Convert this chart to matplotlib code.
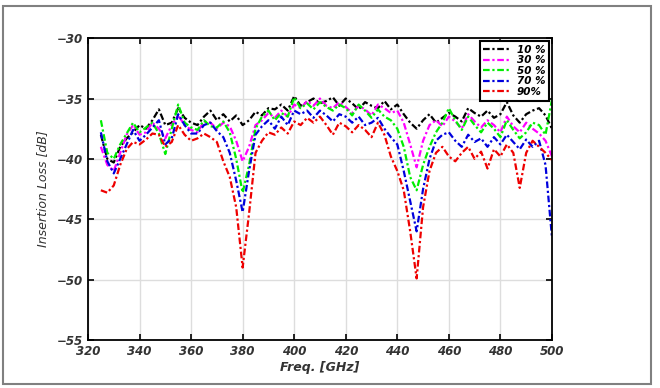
import numpy as np
import matplotlib
matplotlib.use("Agg")
import matplotlib.pyplot as plt
from matplotlib.patches import Rectangle

freq = np.arange(325, 500.1, 2.5)

loss_10 = [-38.0, -40.0, -40.3, -39.0, -38.3, -37.8, -37.2, -37.5, -36.8, -35.9,
           -37.2, -37.0, -35.8, -36.6, -37.0, -37.2, -36.5, -36.0, -36.8, -36.3,
           -36.9, -36.4, -37.2, -36.8, -36.1, -36.4, -35.8, -35.9, -35.5, -36.0,
           -34.8, -35.6, -35.3, -35.0, -35.4, -35.2, -34.9, -35.6, -35.0, -35.4,
           -35.9, -35.3, -35.6, -35.8, -35.2, -35.9, -35.5, -36.3, -37.0, -37.5,
           -36.8, -36.3, -37.0, -36.6, -36.2, -36.5, -36.9, -35.8, -36.2, -36.5,
           -36.0, -36.6, -36.3, -35.3, -36.4, -37.0, -36.3, -36.0, -35.8, -36.4,
           -37.5]
loss_30 = [-39.0, -40.5, -41.0, -39.5, -38.0, -37.2, -38.0, -37.8, -37.0, -37.5,
           -38.3, -37.2, -36.4, -37.2, -37.6, -37.8, -36.9, -37.0, -37.5, -37.0,
           -37.3, -38.5, -40.2, -39.0, -37.2, -36.8, -36.2, -36.6, -36.0, -36.5,
           -35.5, -35.8, -35.2, -35.6, -35.0, -35.6, -35.8, -35.3, -35.7, -36.2,
           -35.6, -35.9, -36.4, -35.5, -35.8, -36.2, -36.0, -37.0, -38.8, -40.7,
           -38.5, -37.2, -36.8, -37.3, -36.5, -36.9, -37.5, -36.3, -36.9, -37.4,
           -36.8, -37.2, -37.8, -36.5, -37.3, -37.8, -37.0, -37.5, -37.9, -38.5,
           -39.8]
loss_50 = [-36.8, -39.5, -40.0, -38.8, -37.9, -37.0, -37.8, -37.4, -37.0, -37.9,
           -39.6, -37.5, -35.5, -37.0, -37.4, -37.6, -36.8, -37.3, -37.4, -36.9,
           -37.8, -40.0, -42.8, -40.5, -37.5, -36.5, -36.0, -36.8, -36.2, -36.5,
           -34.9, -35.8, -35.4, -35.9, -35.3, -35.7, -36.0, -35.5, -35.8, -36.4,
           -35.5, -36.0, -36.6, -35.9, -36.5, -36.8, -37.5, -39.0, -41.5, -42.6,
           -40.5, -39.0, -37.8, -37.0, -35.8, -36.8, -37.6, -36.5, -37.2, -37.8,
           -37.0, -37.5, -38.2, -36.8, -37.6, -38.3, -37.8, -37.0, -37.2, -38.0,
           -35.1]
loss_70 = [-37.8, -40.2, -41.2, -40.0, -38.8, -37.6, -38.5, -38.0, -37.4, -36.8,
           -38.8, -38.3, -36.3, -37.2, -37.9, -37.9, -37.2, -37.0, -37.7, -38.2,
           -39.5, -41.8, -44.4, -41.0, -38.0, -37.3, -36.8, -37.5, -36.5, -37.2,
           -36.0, -36.3, -36.0, -36.6, -36.0, -36.4, -36.9, -36.3, -36.5, -37.0,
           -36.5, -37.2, -37.0, -36.6, -37.5, -38.2, -38.8, -41.0, -43.5, -46.0,
           -42.5, -40.0, -38.5, -38.0, -37.8, -38.5, -39.0, -38.0, -38.6, -38.3,
           -39.0, -38.2, -38.8, -38.0, -38.6, -39.2, -38.4, -39.0, -38.5, -40.5,
           -46.5]
loss_90 = [-42.6, -42.8, -42.2, -40.5, -39.2, -38.6, -38.8, -38.4, -37.9, -38.0,
           -39.0, -38.6, -37.2, -38.0, -38.5, -38.3, -37.9, -38.2, -38.6, -40.2,
           -41.5, -44.0, -49.0, -44.5, -39.5, -38.5, -37.8, -38.0, -37.4, -37.9,
           -36.9, -37.2, -36.6, -37.0, -36.5, -37.2, -38.0, -37.0, -37.3, -37.8,
           -37.2, -37.6, -38.2, -37.0, -38.0, -39.8, -41.0, -42.6, -46.0, -49.9,
           -44.0, -41.0, -39.5, -39.0, -39.8, -40.2, -39.5, -39.0, -40.0, -39.4,
           -40.8, -39.2, -39.8, -38.8, -39.5, -42.4, -39.5, -38.5, -39.0, -39.5,
           -40.1]

labels = ["10 %", "30 %", "50 %", "70 %", "90%"]
colors = ["black", "#ff00ff", "#00ee00", "#0000dd", "#ee0000"]
series = [loss_10, loss_30, loss_50, loss_70, loss_90]

fig = plt.figure(figsize=(6.6, 3.88), dpi=100)
fig.patches.append(Rectangle((0.005, 0.01), 0.982, 0.975, transform=fig.transFigure,
                             fill=False, edgecolor="#808080", linewidth=1.5))
ax = fig.add_axes([0.1333, 0.1237, 0.703, 0.778])

for y, c, lab in zip(series, colors, labels):
    ax.plot(freq, y, linestyle=(0, (3, 1.2, 1, 1.2)), color=c, linewidth=1.6, label=lab)

ax.set_xlim(320, 500)
ax.set_ylim(-55, -30)
ax.set_xticks(np.arange(320, 501, 20))
ax.set_yticks(np.arange(-55, -29, 5))
ax.grid(True, color="#dddddd", linewidth=1)
ax.tick_params(direction="in", top=True, right=True, length=4, width=1.2,
               labelsize=8.5, labelcolor="#333333")
for t in ax.get_xticklabels() + ax.get_yticklabels():
    t.set_fontweight("bold")
    t.set_fontstyle("italic")
for s in ax.spines.values():
    s.set_linewidth(1.3)

ax.set_xlabel("Freq. [GHz]", fontsize=9, fontstyle="italic", fontweight="bold",
              color="#333333", labelpad=2)
ax.set_ylabel("Insertion Loss [dB]", fontsize=9, fontstyle="italic", color="#333333",
              labelpad=6)

leg = ax.legend(loc="upper right", prop={"style": "italic", "weight": "bold", "size": 7.5},
                handlelength=2.6, handletextpad=0.6, labelspacing=0.05, borderpad=0.35,
                fancybox=False, framealpha=1, borderaxespad=0.3)
leg.get_frame().set_edgecolor("black")
leg.get_frame().set_linewidth(1.5)

fig.savefig("out.png", dpi=100)
